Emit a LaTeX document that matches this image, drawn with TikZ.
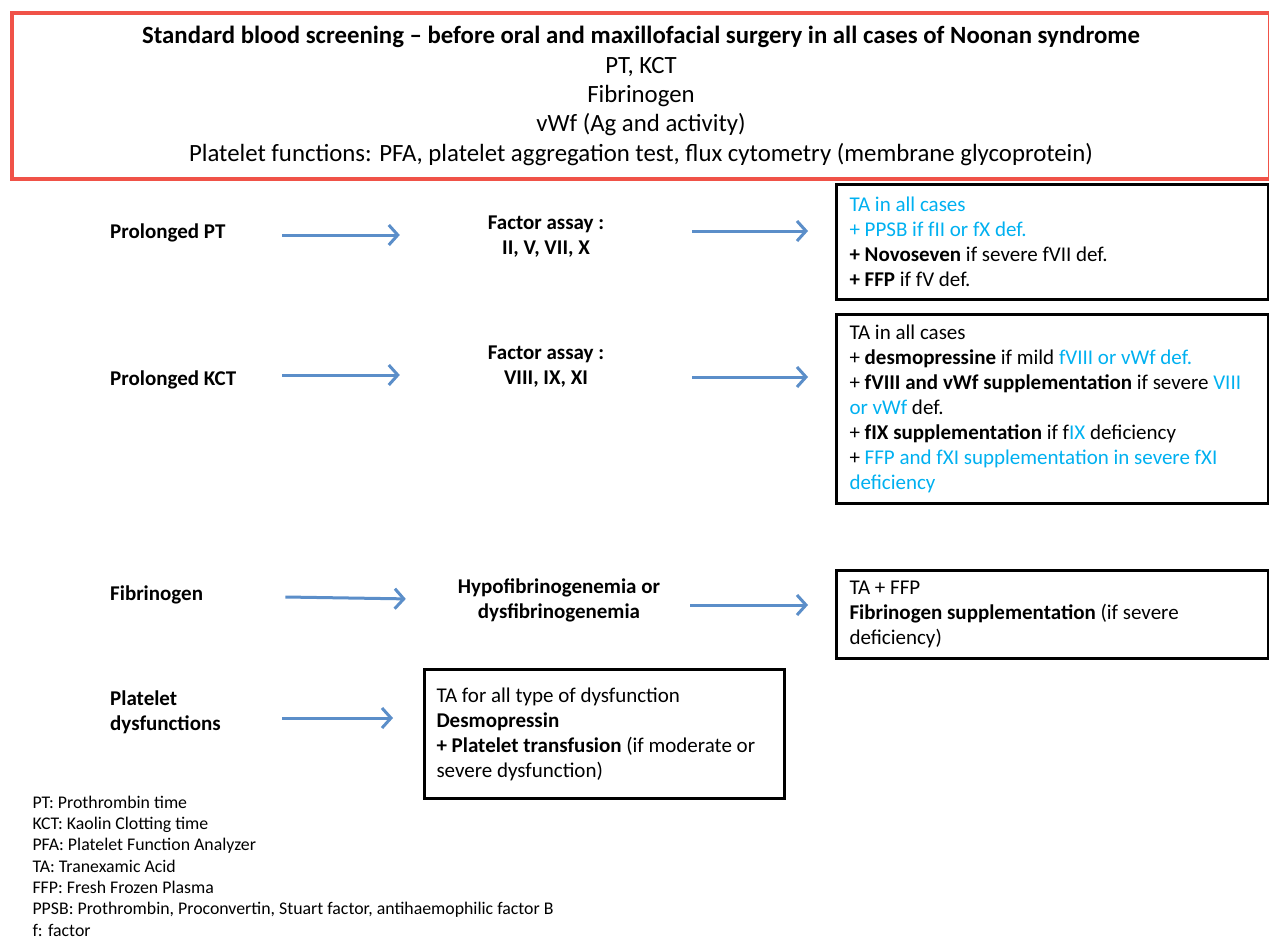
\documentclass[tikz,border=0pt]{standalone}
\usepackage{fontspec}
\setmainfont{Carlito}
\usepackage{xcolor}
\usepackage{tikz}
\usetikzlibrary{arrows.meta, positioning, calc}

\definecolor{arrowblue}{RGB}{91,142,201}
\definecolor{hiblue}{RGB}{0,176,240}
\definecolor{headred}{RGB}{240,82,72}
\newcommand{\hb}[1]{\textcolor{hiblue}{#1}}

\begin{document}
\begin{tikzpicture}[x=1pt, y=-1pt,
    header/.style={rectangle, draw=headred, line width=4pt, minimum width=1258pt, minimum height=166pt, align=flush center, font=\fontsize{24.8}{29.3}\selectfont},
    test/.style={anchor=west, text width=168pt, inner xsep=4pt, align=flush left, font=\fontsize{21}{25}\selectfont\bfseries},
    assay/.style={text width=284pt, inner xsep=4pt, align=flush center, font=\fontsize{21}{25}\selectfont\bfseries},
    treat/.style={rectangle, draw, line width=3pt, anchor=north west, inner xsep=13pt, align=flush left, font=\fontsize{21}{25}\selectfont},
    arr/.style={-{Straight Barb[length=9pt, width=20pt]}, line width=3pt, arrowblue},
    notes/.style={anchor=west, align=flush left, font=\fontsize{17.8}{21.3}\selectfont}
]
\useasboundingbox (0,0) rectangle (1269,940);

% Header
\node[header] (screen) at (641,96) {\textbf{Standard blood screening -- before oral and maxillofacial surgery in all cases of Noonan syndrome}\\
    PT, KCT\\Fibrinogen\\vWf (Ag and activity)\\
    Platelet functions: PFA, platelet aggregation test, flux cytometry (membrane glycoprotein)};

% Tests
\node[test] (pt) at (106,233) {Prolonged PT};
\node[test] (kct) at (106,380) {Prolonged KCT};
\node[test] (fib) at (106,595) {Fibrinogen};
\node[test] (plt) at (106,712) {Platelet\\dysfunctions};

% Assays
\node[assay] (assayPT) at (546,237) {Factor assay :\\II, V, VII, X};
\node[assay] (assayKCT) at (546,367) {Factor assay :\\VIII, IX, XI};
\node[assay] (assayFib) at (559,600) {Hypofibrinogenemia or\\dysfibrinogenemia};

% Treatments
\node[treat, text width=406pt, minimum height=115pt] (treatPT) at (835,183) {\hb{TA in all cases}\\
    \hb{+ PPSB if fII or fX def.}\\
    \textbf{+ Novoseven} if severe fVII def.\\
    \textbf{+ FFP} if fV def.};
\node[treat, text width=406pt, minimum height=189pt] (treatKCT) at (835,313) {TA in all cases\\
    + \textbf{desmopressine} if mild \hb{fVIII or vWf def.}\\
    + \textbf{fVIII and vWf supplementation} if severe \hb{VIII}\\
    \hb{or vWf} def.\\
    + \textbf{fIX supplementation} if f\hb{IX} deficiency\\
    + \hb{FFP and fXI supplementation in severe fXI}\\
    \hb{deficiency}};
\node[treat, text width=406pt, minimum height=88pt] (treatFib) at (835,569) {TA + FFP\\
    \textbf{Fibrinogen supplementation} (if severe\\deficiency)};
\node[treat, text width=336pt, inner xsep=12pt, minimum height=129pt] (treatPlt) at (423,668) {TA for all type of dysfunction\\
    \textbf{Desmopressin}\\
    \textbf{+ Platelet transfusion} (if moderate or\\severe dysfunction)};

% Arrows
\draw[arr] ([yshift=-2pt]pt.east) -- ([yshift=-2pt]pt.east -| assayPT.west);
\draw[arr] ([yshift=6pt]assayPT.east) -- ([yshift=6pt]assayPT.east -| treatPT.west) [shorten >=27pt];
\draw[arr] ([yshift=5pt]kct.east) -- ([yshift=5pt]kct.east -| assayKCT.west);
\draw[arr] ([yshift=-10pt]assayKCT.east) -- ([yshift=-10pt]assayKCT.east -| treatKCT.west) [shorten >=27pt];
\draw[arr] ([xshift=3pt,yshift=-2pt]fib.east) -- ([yshift=-4pt]fib.east -| assayFib.west) [shorten >=7pt];
\draw[arr] ([xshift=-15pt,yshift=-5pt]assayFib.east) -- ([yshift=-5pt]assayFib.east -| treatFib.west) [shorten >=27pt];
\draw[arr] ([yshift=-6pt]plt.east) -- ([yshift=-6pt]plt.east -| treatPlt.west) [shorten >=30pt];

% Abbreviations
\node[notes] (abbrev) at (29,866) {PT: Prothrombin time\\
    KCT: Kaolin Clotting time\\
    PFA: Platelet Function Analyzer\\
    TA: Tranexamic Acid\\
    FFP: Fresh Frozen Plasma\\
    PPSB: Prothrombin, Proconvertin, Stuart factor, antihaemophilic factor B\\
    f: factor};
\end{tikzpicture}
\end{document}
